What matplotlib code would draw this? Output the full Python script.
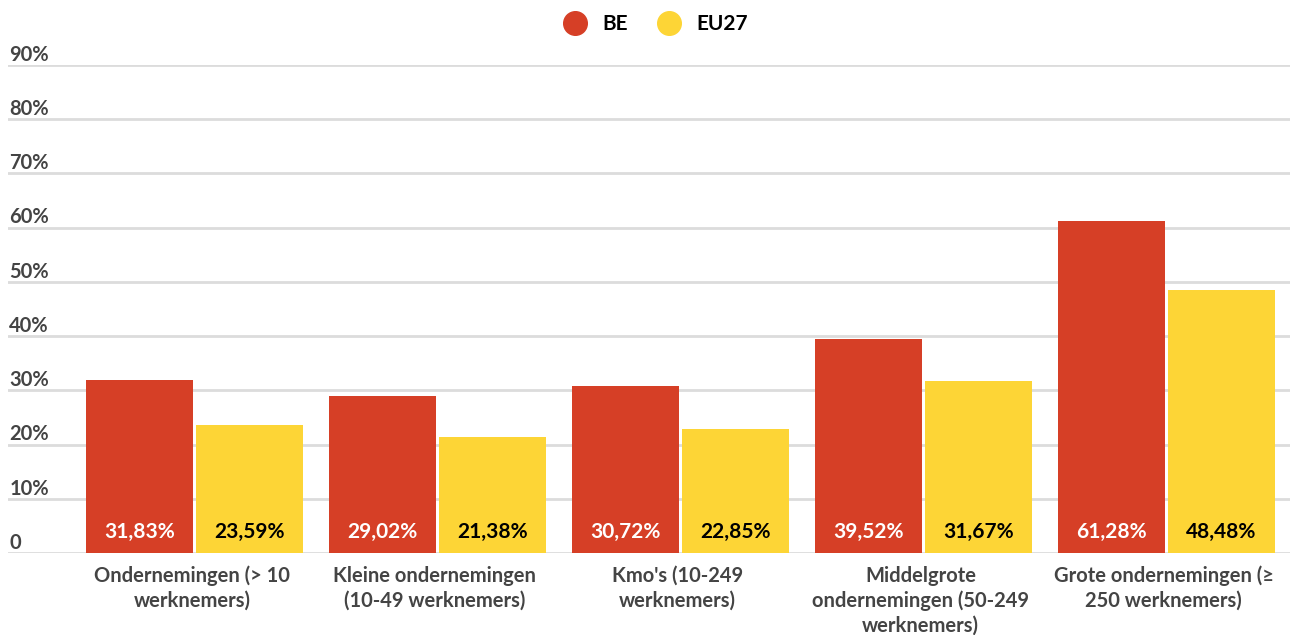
import numpy as np
import matplotlib.pyplot as plt
from matplotlib.lines import Line2D

plt.rcParams['font.family'] = ['Lato', 'DejaVu Sans']

# Data
categories = ["Ondernemingen (> 10\nwerknemers)",
              "Kleine ondernemingen\n(10-49 werknemers)",
              "Kmo's (10-249\nwerknemers)",
              "Middelgrote\nondernemingen (50-249\nwerknemers)",
              "Grote ondernemingen (≥\n250 werknemers)"]
be_values = [31.83, 29.02, 30.72, 39.52, 61.28]
eu_values = [23.59, 21.38, 22.85, 31.67, 48.48]
series_names = ["BE", "EU27"]
y_ticks = [0, 10, 20, 30, 40, 50, 60, 70, 80, 90]

RED = '#d63f26'
YELLOW = '#fdd536'
GRID = '#dcdcdc'
TXT = '#444444'

fig = plt.figure(figsize=(12.9, 6.35), dpi=100)
ax = fig.add_axes([8 / 1290, 1 - 553 / 635, 1 - 8 / 1290, (553 - 65) / 635])

x = np.arange(len(categories))
w = 0.44
off = 0.226
ax.bar(x - off, be_values, w, color=RED, zorder=3)
ax.bar(x + off, eu_values, w, color=YELLOW, zorder=3)

ax.set_xlim(-0.768, 4.508)
ax.set_ylim(0, 90)

for v in y_ticks:
    ax.axhline(v, color=GRID, lw=2, zorder=1)
    label = '0' if v == 0 else f'{v}%'
    ax.annotate(label, (0, v), xycoords=('axes fraction', 'data'),
                xytext=(1, 3), textcoords='offset points',
                ha='left', va='baseline', fontsize=14.5, fontweight='bold', color=TXT)

for i in range(len(categories)):
    ax.text(x[i] - off, 3.8, f'{be_values[i]:.2f}%'.replace('.', ','),
            ha='center', va='center', fontsize=15, fontweight='bold',
            color='white', zorder=4)
    ax.text(x[i] + off, 3.8, f'{eu_values[i]:.2f}%'.replace('.', ','),
            ha='center', va='center', fontsize=15, fontweight='bold',
            color='black', zorder=4)
    ax.annotate(categories[i], (x[i], 0), xycoords='data',
                xytext=(-2, -9), textcoords='offset points',
                ha='center', va='top', fontsize=14.5, fontweight='bold',
                color=TXT, linespacing=1.3)

ax.set_xticks([])
ax.set_yticks([])
for s in ax.spines.values():
    s.set_visible(False)

handles = [Line2D([], [], marker='o', ls='', markersize=17, color=c)
           for c in (RED, YELLOW)]
fig.legend(handles, series_names, loc='center', bbox_to_anchor=(651 / 1290, 1 - 24 / 635),
           ncol=2, frameon=False, handletextpad=0.3, columnspacing=1.0,
           prop={'weight': 'bold', 'size': 15})

fig.savefig('out.png', dpi=100)
